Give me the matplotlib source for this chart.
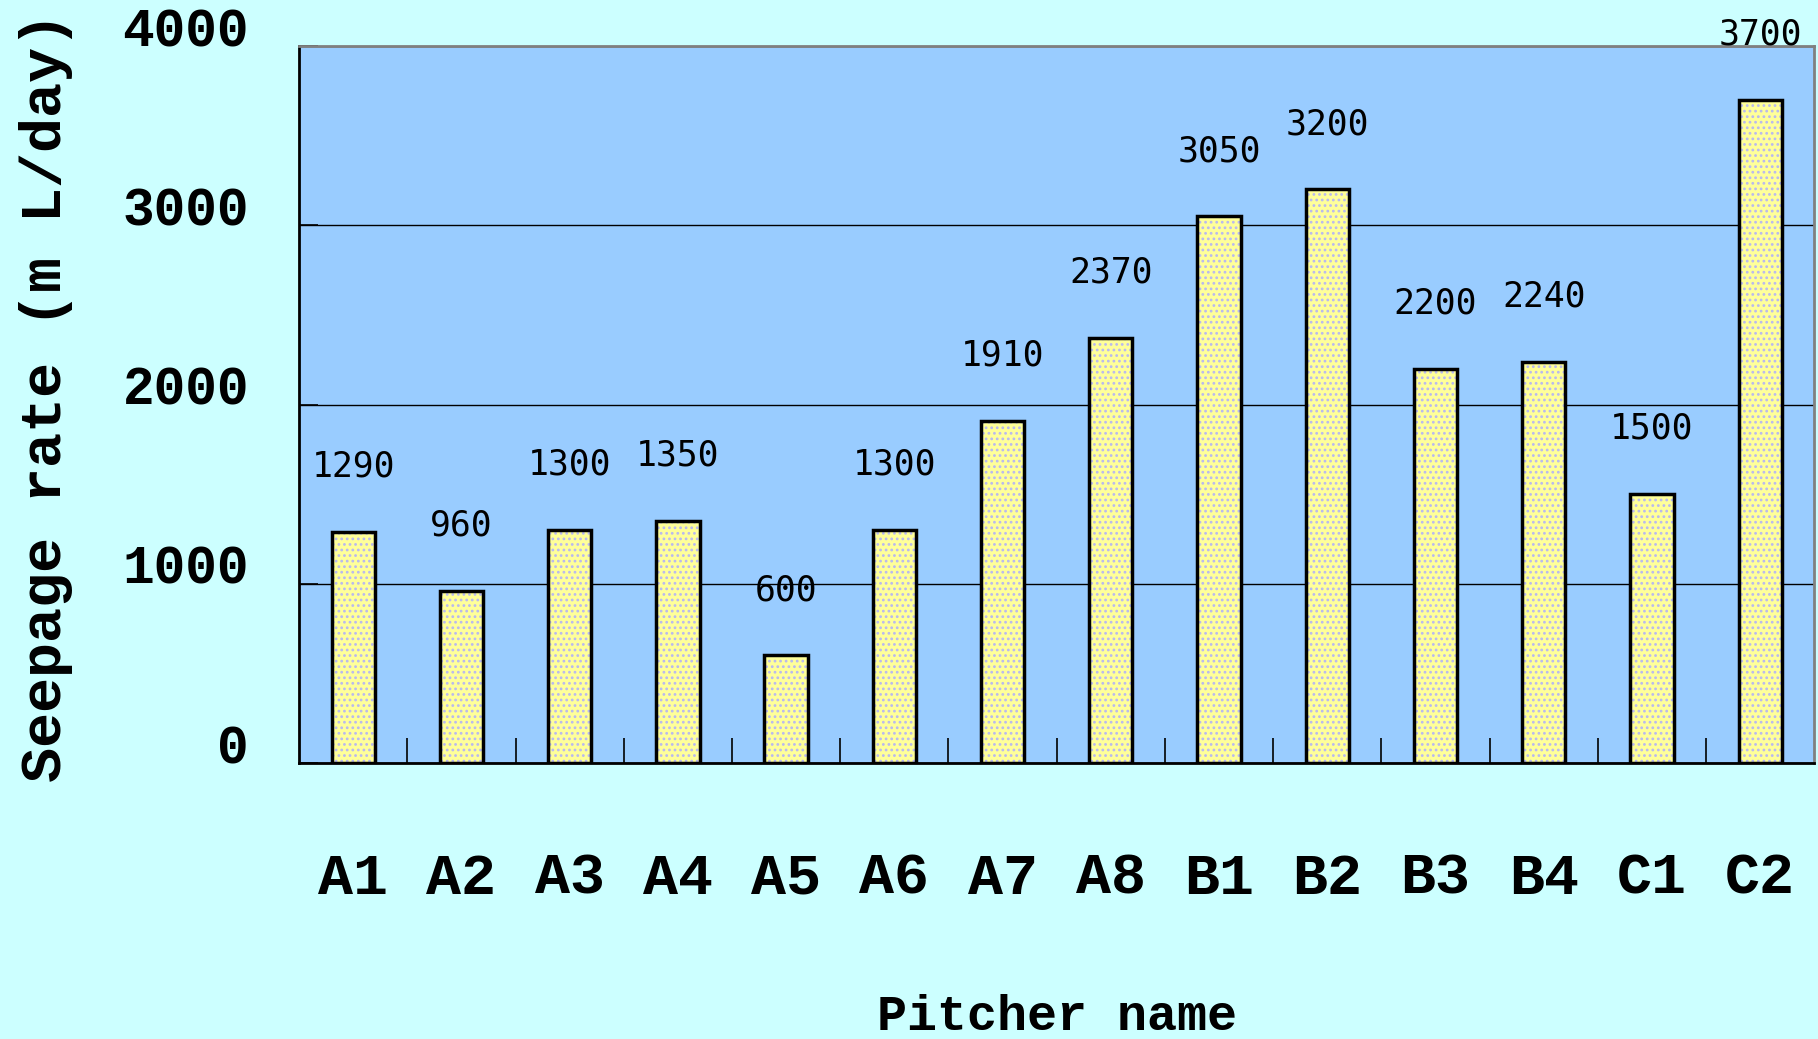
import numpy as np
import matplotlib
matplotlib.use("Agg")
import matplotlib.pyplot as plt

# chart data
pitchers = ["A1", "A2", "A3", "A4", "A5", "A6", "A7", "A8",
            "B1", "B2", "B3", "B4", "C1", "C2"]
seepage = [1290, 960, 1300, 1350, 600, 1300, 1910, 2370,
           3050, 3200, 2200, 2240, 1500, 3700]
yticks = [0, 1000, 2000, 3000, 4000]

mono = ["Liberation Mono", "DejaVu Sans Mono"]
plt.rcParams["hatch.linewidth"] = 1.2

fig = plt.figure(figsize=(18.18, 10.39), dpi=100, facecolor="#CCFFFF")
ax = fig.add_axes([0.1645, 0.2656, 0.8335, 0.6901])
ax.set_facecolor("#99CCFF")

x = np.arange(len(pitchers))
# dotted fill, then black outline on top
ax.bar(x, seepage, width=0.4, color="#FFFF99", edgecolor="#B8B8F0",
       hatch="...", linewidth=0, zorder=3)
ax.bar(x, seepage, width=0.4, fill=False, edgecolor="black",
       linewidth=2.5, zorder=4)

for xi, v in zip(x, seepage):
    ax.annotate(str(v), (xi, v), xytext=(0, 47), textcoords="offset points",
                ha="center", va="center", fontsize=25,
                family="DejaVu Sans Mono", zorder=5, annotation_clip=False)

ax.set_xlim(-0.5, len(pitchers) - 0.5)
ax.set_ylim(0, 4000)
ax.set_yticks(yticks)
ax.set_yticklabels([str(t) for t in yticks], family=mono,
                   fontweight="bold", fontsize=38)
for lbl in ax.get_yticklabels():
    lbl.set_va("baseline")
ax.tick_params(axis="y", direction="in", length=14, width=1.2, pad=36)

ax.set_xticks(x)
ax.set_xticklabels(pitchers, family=mono, fontweight="bold", fontsize=42)
ax.tick_params(axis="x", which="major", length=0, pad=64)
ax.set_xticks(np.arange(0.5, len(pitchers) - 0.5), minor=True)
ax.tick_params(axis="x", which="minor", direction="in", length=18, width=1.2)

ax.grid(axis="y", color="black", linewidth=1.0, zorder=1)
ax.set_axisbelow(True)

for side in ("left", "bottom"):
    ax.spines[side].set_color("black")
    ax.spines[side].set_linewidth(2)
for side in ("top", "right"):
    ax.spines[side].set_color("#808080")
    ax.spines[side].set_linewidth(2)

ax.set_ylabel("Seepage rate (m L/day)", family=mono, fontweight="bold",
              fontsize=42)
ax.yaxis.set_label_coords(-0.149, 0.51)
ax.set_xlabel("Pitcher name", family=mono, fontweight="bold", fontsize=36)
ax.xaxis.set_label_coords(0.5, -0.322)

fig.savefig("out.png", dpi=100, facecolor=fig.get_facecolor())
